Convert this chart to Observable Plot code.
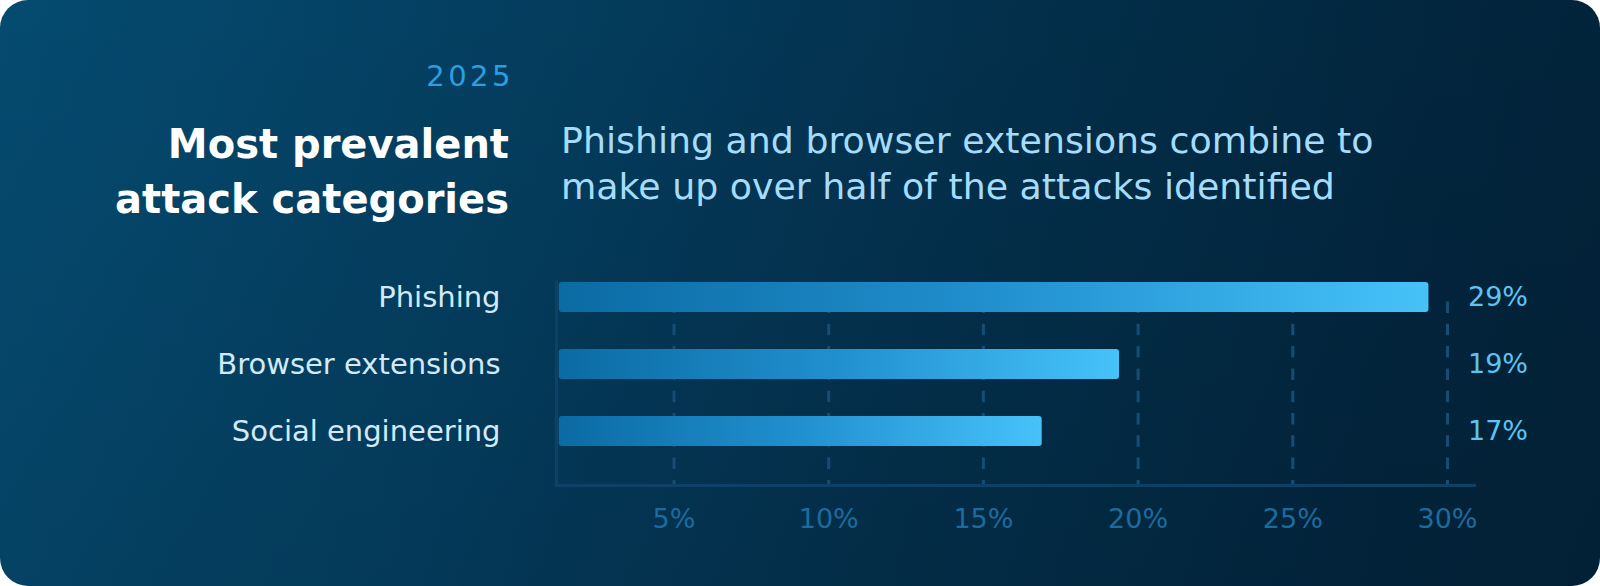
<!DOCTYPE html>
<html>
<head>
<meta charset="utf-8">
<script src="https://cdn.jsdelivr.net/npm/d3@7"></script>
<script src="https://cdn.jsdelivr.net/npm/@observablehq/plot@0.6"></script>
<style>
  html, body { margin: 0; padding: 0; background: #ffffff; }
  #card {
    position: relative; width: 1600px; height: 586px; overflow: hidden;
    border-radius: 28px;
    background:
      linear-gradient(180deg, rgba(0,0,0,0) 0%, rgba(0,10,20,0.10) 100%),
      linear-gradient(100deg, #054b70 0%, #043f61 28%, #03304c 58%, #02263e 85%, #022339 100%);
    font-family: "DejaVu Sans", sans-serif;
  }
  .txt { position: absolute; white-space: nowrap; }
  #year { right: 1086px; top: 59px; font-size: 29px; line-height: 34px; letter-spacing: 3.5px; color: #2b9fe0; }
  #title { right: 1091px; top: 117px; font-size: 40px; line-height: 55px; font-weight: 700; color: #ffffff; text-align: right; }
  #subtitle { left: 561px; top: 118px; font-size: 36.3px; line-height: 45.5px; font-weight: 400; color: #a6dcfb; }
  #chart { position: absolute; left: 0; top: 0; }
</style>
</head>
<body>
<div id="card">
  <div id="year" class="txt">2025</div>
  <div id="title" class="txt">Most prevalent<br>attack categories</div>
  <div id="subtitle" class="txt">Phishing and browser extensions combine to<br>make up over half of the attacks identified</div>
  <div id="chart"></div>
</div>
<script>
// Data
const categories = ["Phishing", "Browser extensions", "Social engineering"];
const shares = [29.4, 19.4, 16.9];          // bar lengths (%)
const shareLabels = ["29%", "19%", "17%"];  // printed values
const tickValues = [5, 10, 15, 20, 25, 30];

const data = categories.map((c, i) => ({category: c, share: shares[i], label: shareLabels[i]}));

const chart = Plot.plot({
  width: 1600,
  height: 586,
  marginTop: 281.5,
  marginBottom: 101,
  marginLeft: 556,
  marginRight: 126,
  style: {fontFamily: "'DejaVu Sans', sans-serif", background: "transparent", overflow: "visible"},
  x: {domain: [0, 30], range: [518.8, 1447]},
  y: {domain: categories, range: [243.8, 484.6], padding: 0.557},
  marks: [
    Plot.ruleX(tickValues, {stroke: "#154d75", strokeWidth: 3, strokeDasharray: "11.5,10.8", insetTop: 20}),
    Plot.frame({anchor: "left", stroke: "#0e4165", strokeWidth: 3}),
    Plot.frame({anchor: "bottom", stroke: "#0e4165", strokeWidth: 3}),
    Plot.barX(data, {x: "share", y: "category", fill: "url(#barGrad)", insetLeft: 40, rx: 3}),
    Plot.axisY({anchor: "left", tickSize: 0, tickPadding: 56, fontSize: 29, fill: "#d2eaf8", label: null}),
    Plot.axisX(tickValues, {anchor: "bottom", tickSize: 0, tickPadding: 23, fontSize: 27, fill: "#1d6b9d", tickFormat: d => d + "%", label: null}),
    Plot.text(data, {y: "category", text: "label", frameAnchor: "right", textAnchor: "end", dx: 53.5, fontSize: 27, fill: "#5ec3f3"})
  ]
});

const defs = d3.select(chart).insert("defs", ":first-child");
const grad = defs.append("linearGradient").attr("id", "barGrad")
  .attr("x1", "0").attr("x2", "1").attr("y1", "0").attr("y2", "0");
grad.append("stop").attr("offset", "0").attr("stop-color", "#0b6ba3");
grad.append("stop").attr("offset", "0.5").attr("stop-color", "#2190cf");
grad.append("stop").attr("offset", "1").attr("stop-color", "#46c2f9");

document.getElementById("chart").appendChild(chart);
</script>
</body>
</html>
